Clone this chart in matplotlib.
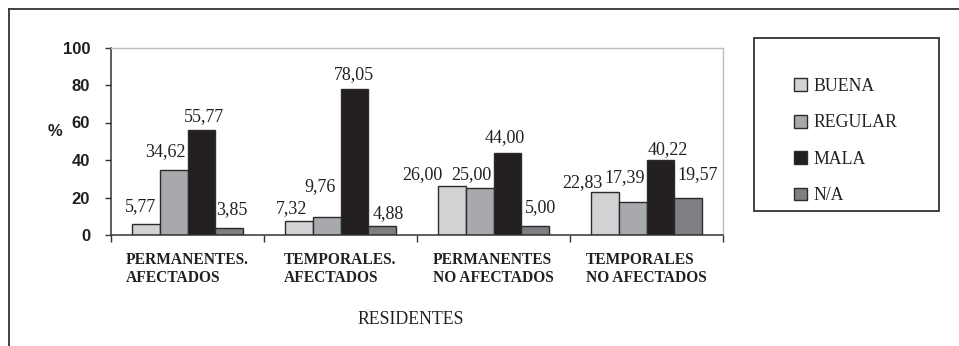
import matplotlib
matplotlib.use("Agg")
import matplotlib.pyplot as plt
import matplotlib.transforms as mtransforms
from matplotlib.patches import Rectangle
import numpy as np

# Opinion of residents by group (%)
groups = ["PERMANENTES.\nAFECTADOS", "TEMPORALES.\nAFECTADOS",
          "PERMANENTES\nNO AFECTADOS", "TEMPORALES\nNO AFECTADOS"]
series_names = ["BUENA", "REGULAR", "MALA", "N/A"]
buena = [5.77, 7.32, 26.00, 22.83]
regular = [34.62, 9.76, 25.00, 17.39]
mala = [55.77, 78.05, 44.00, 40.22]
na = [3.85, 4.88, 5.00, 19.57]
y_ticks = [0, 20, 40, 60, 80, 100]

series = [buena, regular, mala, na]
colors = ["#d1d2d4", "#a8a9ac", "#231f20", "#7e7f82"]

# hand-placed value label offsets (pixels: dx, dy above bar top)
label_shift = [
    [(-5, 13), (-7, 8), (-29, 7), (-22, 5)],
    [(-8, 14), (-7, 26), (-8, 9), (-8, 20)],
    [(3, 9), (0, 10), (-3, 10), (7, 5)],
    [(3, 14), (6, 8), (5, 14), (9, 19)],
]

W, H = 959, 346
fig = plt.figure(figsize=(W / 100, H / 100), dpi=100)
ax = fig.add_axes([111 / W, 1 - 235 / H, (723 - 111) / W, (235 - 47.5) / H])

serif = "Liberation Serif"
sans = "Liberation Sans"

x = np.arange(len(groups))
bw = 0.182
px2pt = 0.72
for i, (vals, col, name) in enumerate(zip(series, colors, series_names)):
    pos = x + (i - 1.5) * bw
    ax.bar(pos, vals, width=bw, color=col, edgecolor="#2b2b2b",
           linewidth=1.0, label=name, zorder=2)
    for j, v in enumerate(vals):
        dx, dy = label_shift[i][j]
        ax.annotate(f"{v:.2f}".replace(".", ","), (pos[j], v),
                    xytext=(dx * px2pt, dy * px2pt), textcoords="offset points",
                    ha="center", va="baseline", fontsize=13,
                    family=serif, color="#231f20")

ax.set_xlim(-0.5, len(groups) - 0.5)
ax.set_ylim(0, 100)
ax.set_yticks(y_ticks)
ax.set_yticklabels([str(t) for t in y_ticks], fontsize=12,
                   fontweight="bold", family=sans, color="#231f20")
ax.tick_params(axis="y", direction="out", length=4, width=1,
               color="#333333", pad=11)
ax.set_xticks(np.arange(-0.5, len(groups)))
ax.set_xticklabels([])
ax.tick_params(axis="x", direction="out", length=5, width=1, color="#333333")

for side in ["left", "bottom"]:
    ax.spines[side].set_color("#333333")
    ax.spines[side].set_linewidth(1.1)
for side in ["top", "right"]:
    ax.spines[side].set_color("#bdbdbd")
    ax.spines[side].set_linewidth(1.0)

# category names under each group
trans = mtransforms.blended_transform_factory(ax.transData, fig.transFigure)
for xi, g in zip(x, groups):
    fig.text(xi, 1 - 252 / H, g, transform=trans, ha="center", va="top",
             multialignment="left", fontsize=11.2, fontweight="bold",
             family=serif, color="#231f20", linespacing=1.15)

fig.text(55 / W, 1 - 132 / H, "%", ha="center", va="center", fontsize=12,
         fontweight="bold", family=sans, color="#231f20")
fig.text(411 / W, 1 - 320 / H, "RESIDENTES", ha="center", va="center",
         fontsize=12.8, family=serif, color="#231f20")

# legend box
fig.patches.append(Rectangle((754 / W, 1 - 211 / H), (939 - 754) / W,
                             (211 - 38) / H, transform=fig.transFigure,
                             fill=False, edgecolor="#333333", linewidth=1.3))
leg = fig.legend(loc="upper left", bbox_to_anchor=(794 / W, 1 - 78 / H),
                 frameon=False, prop={"family": serif, "size": 12.8},
                 handlelength=0.72, handleheight=0.72, handletextpad=0.4,
                 labelspacing=1.09, borderpad=0, borderaxespad=0)
for t in leg.get_texts():
    t.set_color("#231f20")

# outer frame (top and left edges)
fig.add_artist(plt.Line2D([9 / W, 1], [1 - 9 / H, 1 - 9 / H],
                          transform=fig.transFigure, color="#333333", lw=1.3))
fig.add_artist(plt.Line2D([9 / W, 9 / W], [0, 1 - 9 / H],
                          transform=fig.transFigure, color="#333333", lw=1.3))

fig.savefig("out.png", dpi=100)
